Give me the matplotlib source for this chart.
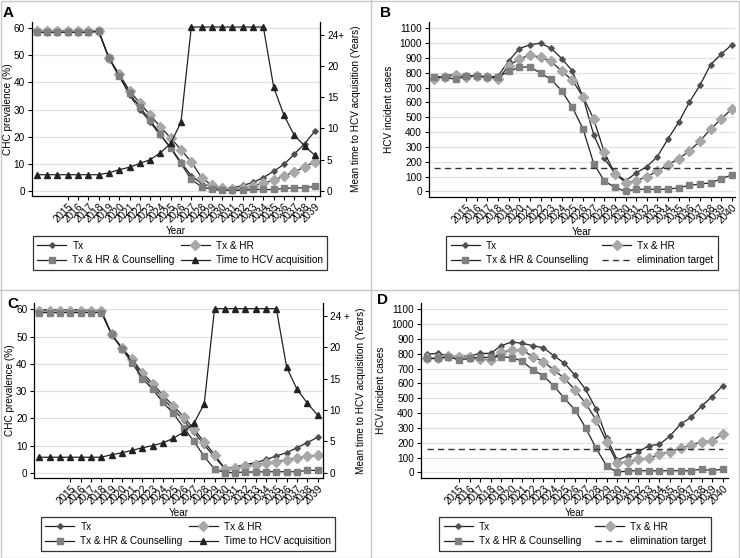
import matplotlib
matplotlib.use("Agg")
import matplotlib.pyplot as plt
from matplotlib.lines import Line2D
from matplotlib.patches import Rectangle

plt.rcParams['font.family'] = ['Liberation Sans', 'DejaVu Sans']

# ---- data ----
years_ac = list(range(2012, 2040))
years_bd = list(range(2012, 2041))
ticks_ac = list(range(2015, 2040))
ticks_bd = list(range(2015, 2041))

a_tx = [59, 59, 59, 59, 59, 59, 59, 49, 42.5, 35.3, 30, 25.4, 20.5, 16, 10.5, 5.6, 2.7,
        1.5, 0.6, 1.1, 2, 3.1, 4.9, 7.2, 9.8, 13.5, 17.4, 22]
a_hr = [59.1, 59, 59, 59, 59, 59, 59, 49, 43, 37, 32.4, 28, 23.6, 19.5, 15.2, 10.7, 4.9,
        2, 0.9, 0.6, 1.1, 1.8, 2.9, 3.9, 5.5, 7, 8.8, 10.8]
a_hrc = [58.5, 58.5, 58.5, 58.5, 58.5, 58.5, 58.8, 49, 42.2, 36, 30.9, 26, 20.8, 15.7, 10.1,
         4.2, 1.5, 0.6, 0.2, 0.2, 0.2, 0.5, 0.5, 0.5, 0.9, 1.1, 1.1, 1.7]
a_time = [2.6, 2.6, 2.6, 2.6, 2.6, 2.6, 2.6, 2.9, 3.4, 3.8, 4.4, 5.0, 6.1, 7.6, 11.0,
          26.2, 26.2, 26.2, 26.2, 26.2, 26.2, 26.2, 26.2, 16.6, 12.1, 8.9, 7.2, 5.7]

b_tx = [768, 775, 795, 775, 777, 772, 778, 880, 963, 990, 1000, 965, 896, 812, 635, 382,
        222, 122, 72, 124, 167, 235, 355, 466, 601, 716, 855, 926, 990]
b_hr = [760, 774, 783, 775, 777, 772, 757, 848, 893, 921, 905, 877, 810, 750, 638, 488,
        263, 120, 59, 70, 100, 137, 181, 220, 272, 339, 421, 489, 556]
b_hrc = [773, 771, 755, 781, 780, 771, 771, 809, 838, 840, 798, 755, 678, 566, 421, 188,
         70, 27, 0, 14, 14, 14, 14, 25, 40, 50, 57, 85, 111]

c_tx = [59.8, 59.8, 59.8, 59.8, 59.8, 59.6, 59.6, 50.8, 45.7, 41, 35.6, 31.6, 27.3, 23.3,
        19.3, 15.0, 10.2, 5.8, 1.5, 2.2, 3.1, 3.7, 4.9, 6.2, 7.4, 9.2, 11.1, 13.0]
c_hr = [59.5, 59.5, 59.5, 59.5, 59.5, 59.5, 59.5, 50.8, 45.9, 41.6, 36.7, 32.6, 28.5, 24.5,
        20.6, 16, 11.3, 6.7, 1.5, 1.8, 2.6, 3.0, 3.7, 4.1, 4.7, 5.6, 6.0, 6.4]
c_hrc = [58.8, 58.8, 58.8, 58.8, 58.8, 58.8, 58.8, 50.8, 45.5, 40.3, 34.6, 30.6, 25.8, 21.8,
         16.6, 11.5, 6.0, 1.3, 0.1, 0.1, 0.3, 0.3, 0.4, 0.4, 0.4, 0.4, 0.9, 0.9]
c_time = [2.5, 2.5, 2.5, 2.5, 2.5, 2.5, 2.5, 2.9, 3.2, 3.6, 4.0, 4.35, 4.8, 5.5, 6.5, 7.9,
          11.0, 26.1, 26.1, 26.1, 26.1, 26.1, 26.1, 26.1, 16.8, 13.3, 11.1, 9.2]

d_tx = [799, 803, 785, 781, 785, 803, 803, 855, 880, 871, 855, 841, 787, 736, 655, 560,
        427, 234, 83, 112, 139, 180, 189, 245, 326, 371, 448, 511, 585]
d_hr = [769, 769, 785, 776, 776, 767, 758, 810, 826, 826, 781, 747, 691, 634, 556, 466,
        353, 207, 61, 72, 88, 94, 124, 139, 162, 184, 207, 214, 259]
d_hrc = [769, 769, 781, 758, 769, 776, 776, 781, 774, 751, 691, 652, 583, 499, 421, 301,
         162, 43, 0, 11, 11, 11, 11, 11, 11, 11, 22, 11, 22]

elim_target = 160

W, H = 740, 558
FS = 7.2
fig = plt.figure(figsize=(W / 100, H / 100), dpi=100)


def px_axes(left, top, right, bottom):
    return fig.add_axes([left / W, 1 - bottom / H, (right - left) / W, (bottom - top) / H])


LINE = '#222222'
styles = {
    'Tx': dict(marker='D', markersize=2.8, markerfacecolor='#505050', markeredgecolor='#505050'),
    'Tx & HR': dict(marker='D', markersize=4.8, markerfacecolor='#a8a8a8', markeredgecolor='#a8a8a8'),
    'Tx & HR & Counselling': dict(marker='s', markersize=4.6, markerfacecolor='#808080',
                                  markeredgecolor='#808080'),
    'Time to HCV acquisition': dict(marker='^', markersize=4.5, markerfacecolor='#222222',
                                    markeredgecolor='#222222'),
}


def base_style(ax, yticks, ylim, xlim, xticks):
    ax.set_xlim(*xlim)
    ax.set_ylim(*ylim)
    ax.set_yticks(yticks)
    ax.set_xticks(xticks)
    ax.set_xticklabels([str(t) for t in xticks], rotation=45, ha='right',
                       rotation_mode='anchor', fontsize=FS)
    ax.tick_params(axis='y', labelsize=FS, length=3, width=0.8, pad=2)
    ax.tick_params(axis='x', length=3, width=0.8, pad=1)
    ax.grid(axis='y', color='#e2e2e2', linewidth=0.9)
    ax.set_axisbelow(True)
    ax.spines['top'].set_visible(False)
    ax.spines['right'].set_visible(False)
    for s in ('left', 'bottom'):
        ax.spines[s].set_linewidth(0.9)
    ax.set_xlabel('Year', fontsize=FS, labelpad=1)


def add_legend(handles, center, colsp):
    leg = fig.legend(handles, [h.get_label() for h in handles],
                     ncol=2, loc='center', bbox_to_anchor=(center[0] / W, 1 - center[1] / H),
                     fontsize=FS, frameon=True, fancybox=False, edgecolor='black',
                     handlelength=2.9, columnspacing=colsp, borderpad=0.45, labelspacing=0.45,
                     handletextpad=0.6)
    leg.get_frame().set_linewidth(0.9)


def prevalence_panel(box, tx, hr, hrc, time, years, label24, legend_center):
    ax = px_axes(*box)
    base_style(ax, [0, 10, 20, 30, 40, 50, 60], (-1.9, 62.3), (2011.5, 2039.5), ticks_ac)
    ax.set_ylabel('CHC prevalence (%)', fontsize=FS, labelpad=0.5)
    h1, = ax.plot(years, tx, color=LINE, lw=0.9, label='Tx', **styles['Tx'])
    h2, = ax.plot(years, hr, color=LINE, lw=0.9, label='Tx & HR', **styles['Tx & HR'])
    h3, = ax.plot(years, hrc, color=LINE, lw=0.9, label='Tx & HR & Counselling',
                  **styles['Tx & HR & Counselling'])
    ax2 = ax.twinx()
    ax2.set_ylim(-0.8, 27.0)
    ax2.set_yticks([0, 5, 10, 15, 20, 25])
    ax2.set_yticklabels(['0', '5', '10', '15', '20', label24])
    ax2.tick_params(axis='y', labelsize=FS, length=3, width=0.8, pad=2)
    for s in ('top', 'left', 'bottom'):
        ax2.spines[s].set_visible(False)
    ax2.spines['right'].set_linewidth(0.9)
    ax2.set_ylabel('Mean time to HCV acquisition (Years)', fontsize=FS, rotation=90, labelpad=5)
    h4, = ax2.plot(years, time, color=LINE, lw=0.9, label='Time to HCV acquisition',
                   **styles['Time to HCV acquisition'])
    add_legend([h1, h3, h2, h4], legend_center, 0.6)
    return ax


def incidence_panel(box, tx, hr, hrc, years, xlim, legend_center):
    ax = px_axes(*box)
    base_style(ax, list(range(0, 1101, 100)), (-38, 1143), xlim, ticks_bd)
    ax.set_ylabel('HCV incident cases', fontsize=FS, labelpad=4)
    h1, = ax.plot(years, tx, color=LINE, lw=0.9, label='Tx', **styles['Tx'])
    h2, = ax.plot(years, hr, color=LINE, lw=0.9, label='Tx & HR', **styles['Tx & HR'])
    h3, = ax.plot(years, hrc, color=LINE, lw=0.9, label='Tx & HR & Counselling',
                  **styles['Tx & HR & Counselling'])
    h4, = ax.plot([years[0], years[-1]], [elim_target, elim_target], color='#333333',
                  lw=1.0, ls=(0, (4.5, 3)), label='elimination target')
    add_legend([h1, h3, h2, h4], legend_center, 1.4)
    return ax


prevalence_panel((31.7, 22, 320, 196), a_tx, a_hr, a_hrc, a_time, years_ac, '24+', (180, 253))
incidence_panel((429, 22, 735, 197), b_tx, b_hr, b_hrc, years_bd, (2011.5, 2040.3), (582, 253))
prevalence_panel((34.3, 303, 322.7, 478), c_tx, c_hr, c_hrc, c_time, years_ac, '24 +', (188, 534))
incidence_panel((421, 303, 728, 478), d_tx, d_hr, d_hrc, years_bd, (2011.4, 2040.5), (575, 534))

# panel letters
for letter, x, y in (('A', 3, 13), ('B', 380, 13), ('C', 7, 304), ('D', 377, 300)):
    fig.text(x / W, 1 - y / H, letter, fontsize=11, fontweight='bold', va='center', ha='left')

# outer frame and separators
fig.add_artist(Rectangle((0.5 / W, 0.5 / H), (W - 1.5) / W, (H - 1.5) / H, transform=fig.transFigure,
                         fill=False, edgecolor='#c8c8c8', linewidth=1.0))
fig.add_artist(Line2D([0, 1], [1 - 290 / H, 1 - 290 / H], transform=fig.transFigure,
                      color='#c8c8c8', linewidth=1.0))
fig.add_artist(Line2D([370.5 / W, 370.5 / W], [0, 1], transform=fig.transFigure,
                      color='#c8c8c8', linewidth=1.0))

fig.savefig('out.png', dpi=100)
